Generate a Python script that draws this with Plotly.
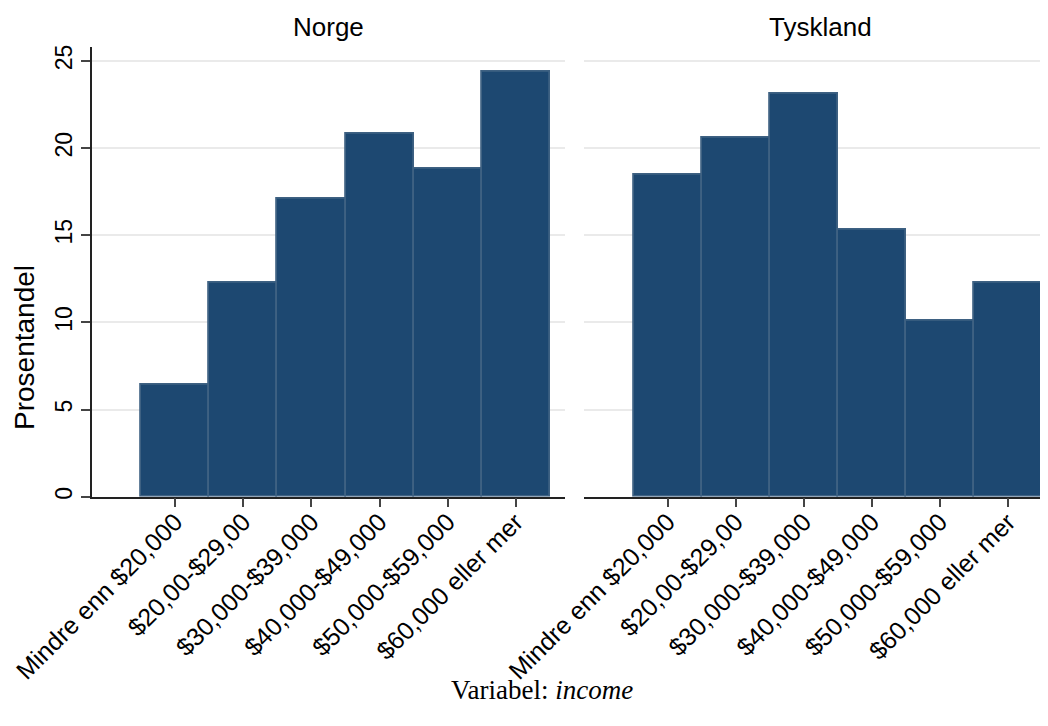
import plotly.graph_objects as go

categories = ["Mindre enn $20,000", "$20,00-$29,00", "$30,000-$39,000",
              "$40,000-$49,000", "$50,000-$59,000", "$60,000 eller mer"]
norge = [6.4, 12.3, 17.1, 20.8, 18.8, 24.4]
tyskland = [18.5, 20.6, 23.1, 15.3, 10.1, 12.3]
panels = ["Norge", "Tyskland"]
y_ticks = [0, 5, 10, 15, 20, 25]

# page body has an 8px margin, so work in page coords shifted by OFF
OFF = 8
W, H = 1048 - OFF, 726 - OFF
fill = "#1d4871"
edge = "#3e6182"
font_sans = "Liberation Sans, Arial, Helvetica, sans-serif"


def px(x):
    return (x - OFF) / W


def py(y):
    return (H - (y - OFF)) / H


fig = go.Figure()
xpos = list(range(len(categories)))
for i, vals in enumerate([norge, tyskland]):
    fig.add_trace(go.Bar(
        x=xpos, y=vals, width=1.0,
        marker=dict(color=fill, line=dict(color=edge, width=1.8)),
        xaxis="x" if i == 0 else "x2", yaxis="y" if i == 0 else "y2",
        showlegend=False, hoverinfo="skip"))

ydom = [py(496.7), py(46.7)]
yrange = [0, 25.82]
common_x = dict(tickmode="array", tickvals=xpos, ticktext=categories,
                tickangle=-45, ticks="outside", ticklen=9, tickwidth=1.5,
                tickcolor="#444", showline=True, linecolor="#222", linewidth=1.5,
                showgrid=False, zeroline=False, automargin=False,
                ticklabelstandoff=-10,
                tickfont=dict(family=font_sans, size=25, color="#000"))
common_y = dict(range=yrange, domain=ydom, tickmode="array", tickvals=y_ticks,
                showgrid=True, gridcolor="#eaeaea", gridwidth=1.5, zeroline=False,
                automargin=False)

fig.update_layout(
    template="none",
    width=W, height=H, margin=dict(l=0, r=0, t=0, b=0, pad=0),
    paper_bgcolor="white", plot_bgcolor="white", bargap=0,
    xaxis=dict(domain=[px(92), px(565)], range=[-1.223, 5.723], anchor="y", **common_x),
    xaxis2=dict(domain=[px(584), 1.0], range=[-1.229, 5.585], anchor="y2", **common_x),
    yaxis=dict(anchor="x", ticks="outside", ticklen=9, tickwidth=1.5, tickcolor="#444",
               showline=True, linecolor="#222", linewidth=1.5, tickangle=-90,
               tickfont=dict(family=font_sans, size=23, color="#000"), **common_y),
    yaxis2=dict(anchor="x2", showticklabels=False, ticks="", showline=False, **common_y),
    annotations=[
        dict(text="Norge", x=px(328.5), y=py(27), xref="paper", yref="paper",
             showarrow=False, xanchor="center", yanchor="middle",
             font=dict(family=font_sans, size=26, color="#000")),
        dict(text="Tyskland", x=px(820.5), y=py(27), xref="paper", yref="paper",
             showarrow=False, xanchor="center", yanchor="middle",
             font=dict(family=font_sans, size=26, color="#000")),
        dict(text="Prosentandel", x=px(25), y=py(348), xref="paper", yref="paper",
             showarrow=False, xanchor="center", yanchor="middle", textangle=-90,
             font=dict(family=font_sans, size=28, color="#000")),
        dict(text="Variabel: <i>income</i>", x=px(542), y=py(690),
             xref="paper", yref="paper", showarrow=False, xanchor="center",
             yanchor="middle",
             font=dict(family="Liberation Serif, Times New Roman, serif", size=27,
                       color="#000")),
    ],
)

fig.write_html("out.html")
